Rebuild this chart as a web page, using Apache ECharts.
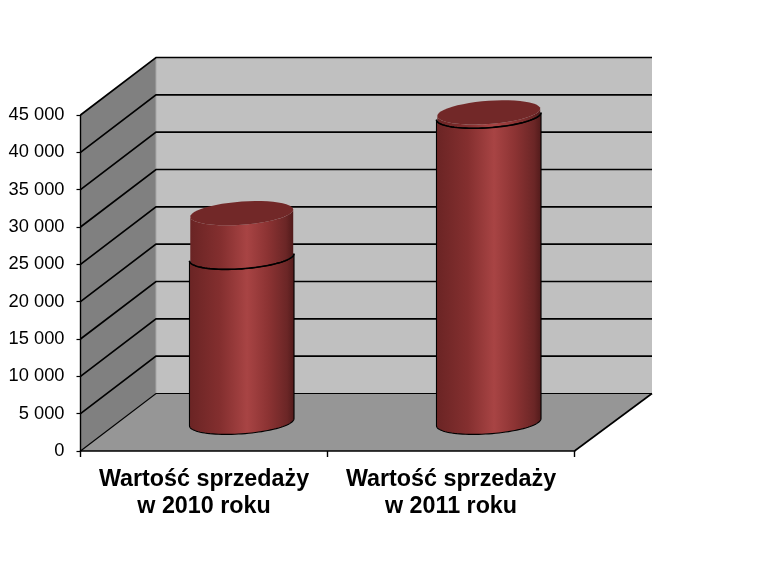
<!DOCTYPE html>
<html><head><meta charset="utf-8">
<style>html,body{margin:0;padding:0;background:#fff}#c{width:772px;height:583px}</style>
<script src="https://cdn.jsdelivr.net/npm/echarts@6/dist/echarts.min.js"></script>
</head><body><div id="c"></div>
<script>
var categories = ['Wartość sprzedaży\nw 2010 roku', 'Wartość sprzedaży\nw 2011 roku'];
var lowerValues = [22100, 41000];
var upperValues = [5900, 500];
var yTicks = [0, 5000, 10000, 15000, 20000, 25000, 30000, 35000, 40000, 45000];

var DX = 75.5, DXR = 77.5, DY = -57.5;

function wallItem(params, api) {
  var c = params.coordSys, x0 = c.x, x1 = c.x + c.width, yT = c.y, yB = c.y + c.height;
  return {type: 'group', children: [
    {type: 'polygon', shape: {points: [[x0 + DX, yT + DY], [x1 + DXR, yT + DY], [x1 + DXR, yB + DY], [x0 + DX, yB + DY]]}, style: {fill: '#c0c0c0'}},
    {type: 'polygon', shape: {points: [[x0, yT], [x0 + DX, yT + DY], [x0 + DX, yB + DY], [x0, yB]]}, style: {fill: '#808080'}},
    {type: 'polygon', shape: {points: [[x0, yB], [x1, yB], [x1 + DXR, yB + DY], [x0 + DX, yB + DY]]}, style: {fill: '#969696'}},
    {type: 'line', shape: {x1: x0 + DX, y1: yT + DY, x2: x0 + DX, y2: yB + DY}, style: {stroke: '#a8a8a8', lineWidth: 1}},
    {type: 'line', shape: {x1: x1, y1: yB, x2: x1 + DXR, y2: yB + DY}, style: {stroke: '#000', lineWidth: 1.6}}
  ]};
}
function gridItem(params, api) {
  var c = params.coordSys, y = api.coord([0, api.value(1)])[1], x0 = c.x, x1 = c.x + c.width;
  return {type: 'polyline', shape: {points: [[x0, y], [x0 + DX, y + DY], [x1 + DXR, y + DY]]},
    style: {stroke: '#000', lineWidth: api.value(1) === 0 ? 1.2 : 1.7, fill: 'none'}};
}
function ellipsePts(cx, cy, a, from, to) {
  var pts = [], n = 48;
  for (var i = 0; i <= n; i++) {
    var t = from + (to - from) * i / n;
    pts.push([cx + a * Math.cos(t), cy + 11.6 * Math.sin(t) - 3.6 * Math.cos(t)]);
  }
  return pts;
}
function bodyGrad() {
  return new echarts.graphic.LinearGradient(0, 0, 1, 0, [
    {offset: 0, color: '#6a2424'}, {offset: 0.3, color: '#842f2f'},
    {offset: 0.55, color: '#a84444'}, {offset: 0.75, color: '#8c3333'},
    {offset: 0.93, color: '#6b2626'}, {offset: 1, color: '#501a1a'}]);
}
function cylinder(outlined) {
  return function (params, api) {
    var p0 = api.coord([api.value(0), api.value(1)]);
    var p1 = api.coord([api.value(0), api.value(2)]);
    var a = api.size([1, 0])[0] * 0.21 + (outlined ? 0.4 : -0.4);
    var cx = p0[0] + DX / 2, yB = p0[1] + DY / 2, yT = p1[1] + DY / 2;
    var front = ellipsePts(cx, yB, a, 0, Math.PI);
    var ring = ellipsePts(cx, yT, a, Math.PI, 0);
    var body = front.concat(ring);
    var kids = [{type: 'polygon', shape: {points: body}, style: {fill: bodyGrad(), stroke: outlined ? '#000' : 'none', lineWidth: outlined ? 1.1 : 0}}];
    if (outlined) {
      kids.push({type: 'polyline', shape: {points: ellipsePts(cx, yT, a, 0, Math.PI)}, style: {stroke: '#000', lineWidth: 1.6, fill: 'none'}});
    } else {
      kids.push({type: 'polygon', shape: {points: ellipsePts(cx, yT, a, 0, 2 * Math.PI)}, style: {fill: '#722828'}});
    }
    return {type: 'group', children: kids};
  };
}
var lowerData = lowerValues.map(function (v, i) { return [i, 0, v]; });
var upperData = upperValues.map(function (v, i) { return [i, lowerValues[i], lowerValues[i] + v]; });

var chart = echarts.init(document.getElementById('c'), null, {renderer: 'canvas'});
chart.setOption({
  animation: false,
  backgroundColor: '#fff',
  grid: {left: 80.5, top: 115, width: 494, height: 336, containLabel: false},
  xAxis: {type: 'category', data: categories, z: 5,
    axisLine: {show: true, onZero: false, lineStyle: {color: '#000', width: 1.6}},
    axisTick: {show: true, length: 6, lineStyle: {color: '#000', width: 1.4}},
    axisLabel: {show: true, interval: 0, color: '#000', fontFamily: 'Liberation Sans', fontWeight: 'bold', fontSize: 23.3, lineHeight: 27, margin: 15},
    splitLine: {show: false}},
  yAxis: {type: 'value', min: 0, max: 45000, interval: 5000, z: 5,
    axisLine: {show: true, lineStyle: {color: '#000', width: 1.4}},
    axisTick: {show: true, length: 4, lineStyle: {color: '#000', width: 1.2}},
    axisLabel: {color: '#000', fontFamily: 'Liberation Sans', fontSize: 18.3, margin: 16, padding: [6, 0, 0, 0],
      formatter: function (v) { return String(v).replace(/\B(?=(\d{3})+$)/g, ' '); }},
    splitLine: {show: false}},
  series: [
    {type: 'custom', z: 1, silent: true, data: [[0, 0]], encode: {x: 0, y: 1}, renderItem: wallItem},
    {type: 'custom', z: 2, silent: true, data: yTicks.map(function (t) { return [0, t]; }), encode: {x: 0, y: 1}, renderItem: gridItem},
    {type: 'custom', z: 3, silent: true, data: upperData, encode: {x: 0, y: [1, 2]}, renderItem: cylinder(false)},
    {type: 'custom', z: 4, silent: true, data: lowerData, encode: {x: 0, y: [1, 2]}, renderItem: cylinder(true)}
  ]
});
</script></body></html>
